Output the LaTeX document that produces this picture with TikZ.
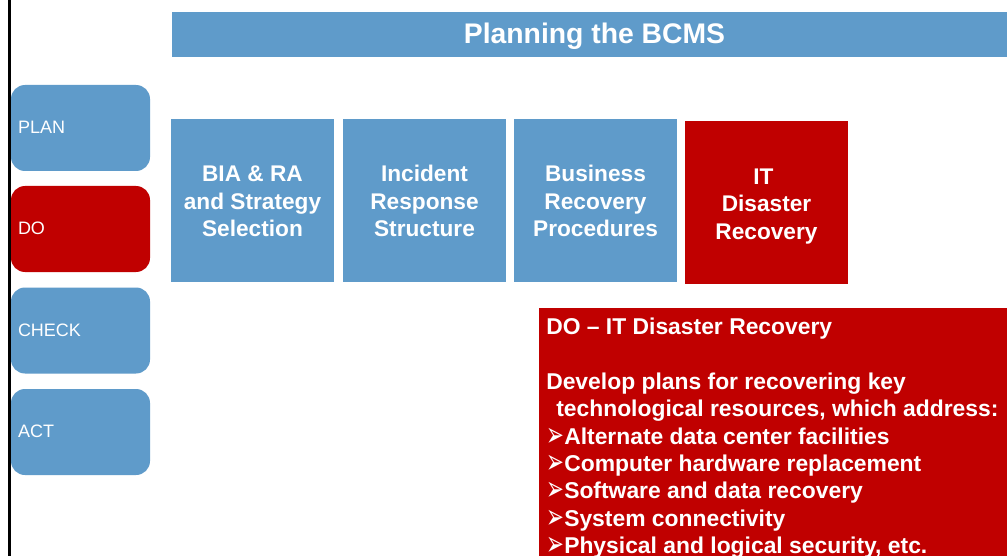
\documentclass[tikz,border=0pt]{standalone}
\usepackage{fontspec}
\usepackage{graphicx}
\setmainfont{Liberation Sans}
\newfontfamily\symfont{DejaVu Sans}
\definecolor{bcmsblue}{HTML}{5F9BCA}
\definecolor{bcmsred}{HTML}{C00000}
\newcommand{\arrowbullet}{\smash{\makebox[13.5pt][l]{\raisebox{-1.5pt}{\symfont\fontsize{16pt}{16pt}\selectfont\scalebox{1}[1.6]{➢}}}}}
\newcommand{\phaselabel}[1]{\raisebox{.75pt}{#1}}
\tikzset{
  x=0.75pt,y=0.75pt,
  phasebox/.style={rectangle,rounded corners=10.5pt,inner xsep=5.25pt,inner ysep=0pt,
    minimum height=64.5pt,text width=93.75pt,align=left,text=white,
    font=\fontsize{13.5pt}{16pt}\selectfont},
  stagebox/.style={rectangle,inner sep=0pt,minimum width=122.25pt,minimum height=122.25pt,
    text=white,align=center,font=\fontsize{17pt}{20.6pt}\selectfont\bfseries},
  titlebar/.style={rectangle,inner sep=0pt,fill=bcmsblue,text=white,minimum width=626.25pt,
    minimum height=33.75pt,font=\fontsize{21.25pt}{25pt}\selectfont\bfseries},
  detailpanel/.style={rectangle,inner sep=0pt,fill=bcmsred,minimum width=351pt,minimum height=186pt},
  detailtext/.style={inner sep=0pt,text=white,align=left,
    font=\fontsize{17.15pt}{20.5pt}\selectfont\bfseries},
}
\begin{document}
\begin{tikzpicture}
\useasboundingbox (0,0) rectangle (1007,-556);
\fill[white] (0,0) rectangle (1007,-556);
\draw[black,line width=2.25pt] (9.5,0) -- (9.5,-556);
\node[titlebar] (title) at (589.5,-34.5) {\hspace*{7.5pt}\rule{0pt}{18.5pt}Planning the BCMS};
\node[phasebox,fill=bcmsblue] (plan) at (80.5,-128) {\phaselabel{PLAN}};
\node[phasebox,fill=bcmsred] (do) at (80.5,-229) {\phaselabel{DO}};
\node[phasebox,fill=bcmsblue] (check) at (80.5,-330.5) {\phaselabel{CHECK}};
\node[phasebox,fill=bcmsblue] (act) at (80.5,-432) {\phaselabel{ACT}};
\node[stagebox,fill=bcmsblue] (bia) at (252.5,-200.5) {\rule{0pt}{13pt}BIA \& RA\\and Strategy\\Selection};
\node[stagebox,fill=bcmsblue] (irs) at (424.5,-200.5) {\rule{0pt}{13pt}Incident\\Response\\Structure};
\node[stagebox,fill=bcmsblue] (brp) at (595.5,-200.5) {\rule{0pt}{13pt}Business\\Recovery\\Procedures};
\node[stagebox,fill=bcmsred] (itdr) at (766.5,-202.5) {\rule{0pt}{17.6pt}IT\hspace*{.28em}\mbox{}\\Disaster\\Recovery};
\node[detailpanel] (panel) at (773,-432) {};
\node[detailtext,anchor=north west] (paneltext) at (546,-318) {%
DO – IT Disaster Recovery\\[20.5pt]
Develop plans for recovering key\\
\hspace*{7.5pt}technological resources, which address:\\
\arrowbullet Alternate data center facilities\\
\arrowbullet Computer hardware replacement\\
\arrowbullet Software and data recovery\\
\arrowbullet System connectivity\\
\arrowbullet Physical and logical security, etc.};
\end{tikzpicture}
\end{document}
